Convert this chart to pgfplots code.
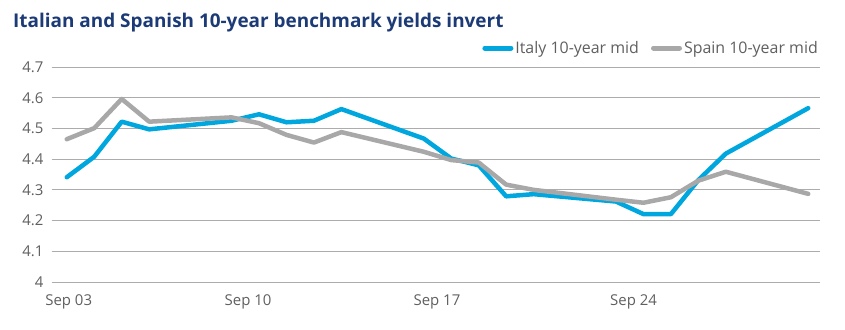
\documentclass[border=0pt]{standalone}
\usepackage{fontspec}
\setmainfont{Open Sans}
\usepackage{pgfplots}
\usepackage{pgfplotstable}
\pgfplotsset{compat=1.18}
\definecolor{italy}{RGB}{0,166,222}
\definecolor{spain}{RGB}{168,168,168}
\definecolor{titleblue}{RGB}{28,58,118}
\definecolor{ticktext}{RGB}{95,95,95}
\definecolor{gridc}{RGB}{172,172,172}

\pgfplotstableread{
day italy spain
3  4.341 4.465
4  4.408 4.501
5  4.522 4.596
6  4.497 4.522
9  4.525 4.536
10 4.546 4.517
11 4.520 4.479
12 4.525 4.454
13 4.563 4.488
16 4.467 4.424
17 4.402 4.397
18 4.380 4.389
19 4.279 4.317
20 4.286 4.300
23 4.262 4.268
24 4.221 4.258
25 4.221 4.276
26 4.332 4.330
27 4.418 4.359
30 4.566 4.287
}\yields

\begin{document}
\begin{tikzpicture}[x=1bp,y=1bp]
\useasboundingbox (0,0) rectangle (845,329);
\node[anchor=base west, inner sep=0pt, text=titleblue,
      font=\bfseries\fontsize{19}{21}\selectfont] at (13,301.7)
      {Italian and Spanish 10-year benchmark yields invert};
\begin{axis}[
  at={(51.7bp,47bp)}, anchor=south west,
  scale only axis, width=768.3bp, height=215bp,
  xmin=2.45, xmax=30.43, ymin=4, ymax=4.7,
  ytick={4,4.1,4.2,4.3,4.4,4.5,4.6,4.7},
  yticklabels={4,4.1,4.2,4.3,4.4,4.5,4.6,4.7},
  xtick={3.07,9.6,16.48,23.64},
  xticklabels={Sep 03,Sep 10,Sep 17,Sep 24},
  axis line style={draw=none},
  major tick length=0pt,
  ymajorgrids,
  grid style={gridc, line width=1bp},
  /pgf/number format/assume math mode=true,
  yticklabel style={font=\fontsize{15}{17}\selectfont, text=ticktext, anchor=east, inner sep=0pt, xshift=-8bp},
  xticklabel style={font=\fontsize{15}{17}\selectfont, text=ticktext, anchor=base, inner sep=0pt, yshift=-23bp},
  legend columns=2,
  legend style={at={(rel axis cs:1,1)}, anchor=east, xshift=3bp, yshift=19bp,
    draw=none, fill=none, font=\fontsize{16}{18}\selectfont, text=ticktext,
    nodes={inner sep=2bp},
    /tikz/every even column/.append style={column sep=10bp}},
  legend image code/.code={\draw[#1, line width=5bp] (0bp,0bp) -- (26bp,0bp);},
  clip=false,
]
\addplot[italy, line width=4.5bp, line cap=round, line join=round] table[x=day, y=italy] {\yields};
\addlegendentry{Italy 10-year mid}
\addplot[spain, line width=4.5bp, line cap=round, line join=round] table[x=day, y=spain] {\yields};
\addlegendentry{Spain 10-year mid}
\end{axis}
\end{tikzpicture}
\end{document}
